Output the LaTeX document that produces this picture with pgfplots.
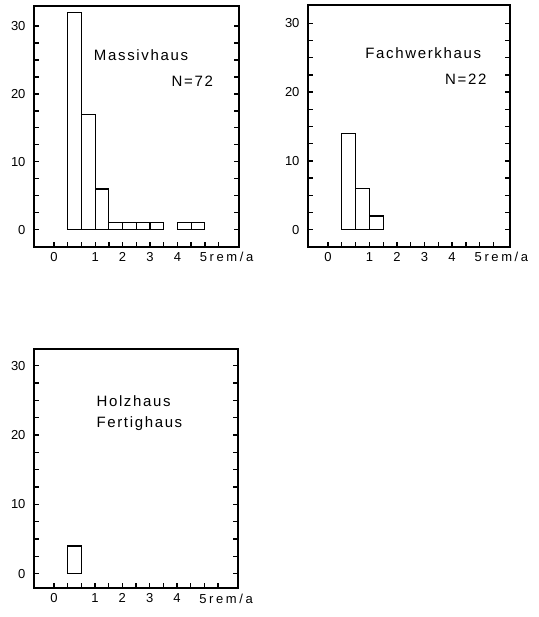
\documentclass[border=0pt]{standalone}
\usepackage{fontspec}
\setmainfont{Liberation Sans}
\newfontfamily\spaced[LetterSpace=11]{Liberation Sans}
\newfontfamily\tickspaced[LetterSpace=20]{Liberation Sans}
\usepackage{pgfplots}
\pgfplotsset{compat=1.18}
\tikzset{lab/.style={font=\spaced\fontsize{15}{18}\selectfont, inner sep=0pt},
  tk/.style={line width=1.3pt, black}}
\pgfplotsset{
  histo/.style={
    scale only axis, anchor=south west, clip=false,
    axis line style={line width=1.8pt},
    xtick={0,...,12},
    xticklabels={0,,,1,,2,,3,,4,,,{\hspace*{16pt}\tickspaced 5rem/a}},
    ytick={0,2.5,...,30},
    yticklabels={0,,,,10,,,,20,,,,30},
    xtick pos=left, ytick pos=both, yticklabel pos=left,
    xtick align=inside, ytick align=inside,
    major tick length=5pt,
    every major tick/.append style={black, line width=1.3pt},
    /pgf/number format/assume math mode=true,
    tick label style={font=\fontsize{13}{15}\selectfont},
    yticklabel style={xshift=-5pt},
    xticklabel style={yshift=-2pt},
  },
  bars/.style={ybar, bar width=1, bar shift=0pt, draw=black, fill=none, line width=1.2pt},
}
\begin{document}
\begin{tikzpicture}
\path[use as bounding box] (0,0) rectangle (538pt,617pt);
% Panel 1
\begin{axis}[histo, at={(34pt,370pt)}, width=205pt, height=241pt,
  xmin=-1.46, xmax=13.49, ymin=-2.55, ymax=32.95]
\addplot[bars] coordinates {(1.5,32) (2.5,17) (3.5,6) (4.5,1) (5.5,1) (6.5,1) (7.5,1) (9.5,1) (10.5,1)};
\pgfplotsinvokeforeach{0,1,2,3,4,5,6,7,8,9,10,11,12}{\draw[tk] (axis cs:#1,-2.55) -- ++(0pt,5pt);}
\pgfplotsinvokeforeach{0,2.5,5,7.5,10,12.5,15,17.5,20,22.5,25,27.5,30}{\draw[tk] (axis cs:-1.46,#1) -- ++(5pt,0pt);}
\node[lab, anchor=west] at (axis cs:2.9,25.7) {Massivhaus};
\node[lab, anchor=east] at (axis cs:11.6,21.8) {N=72};
\end{axis}
% Panel 2
\begin{axis}[histo, at={(308pt,370pt)}, width=202pt, height=242pt,
  xmin=-1.45, xmax=13.2, ymin=-2.52, ymax=32.67]
\addplot[bars] coordinates {(1.5,14) (2.5,6) (3.5,2)};
\pgfplotsinvokeforeach{0,1,2,3,4,5,6,7,8,9,10,11,12}{\draw[tk] (axis cs:#1,-2.52) -- ++(0pt,5pt);}
\pgfplotsinvokeforeach{0,2.5,5,7.5,10,12.5,15,17.5,20,22.5,25,27.5,30}{\draw[tk] (axis cs:-1.45,#1) -- ++(5pt,0pt);}
\node[lab, anchor=west] at (axis cs:2.7,25.6) {Fachwerkhaus};
\node[lab, anchor=east] at (axis cs:11.5,21.9) {N=22};
\end{axis}
% Panel 3
\begin{axis}[histo, at={(34pt,28.7pt)}, width=204pt, height=239pt,
  xmin=-1.46, xmax=13.46, ymin=-2.1, ymax=32.35]
\addplot[bars] coordinates {(1.5,4)};
\pgfplotsinvokeforeach{0,1,2,3,4,5,6,7,8,9,10,11,12}{\draw[tk] (axis cs:#1,-2.1) -- ++(0pt,5pt);}
\pgfplotsinvokeforeach{0,2.5,5,7.5,10,12.5,15,17.5,20,22.5,25,27.5,30}{\draw[tk] (axis cs:-1.46,#1) -- ++(5pt,0pt);}
\node[lab, anchor=west] at (axis cs:3.1,24.9) {Holzhaus};
\node[lab, anchor=west] at (axis cs:3.1,21.7) {Fertighaus};
\end{axis}
\end{tikzpicture}
\end{document}
